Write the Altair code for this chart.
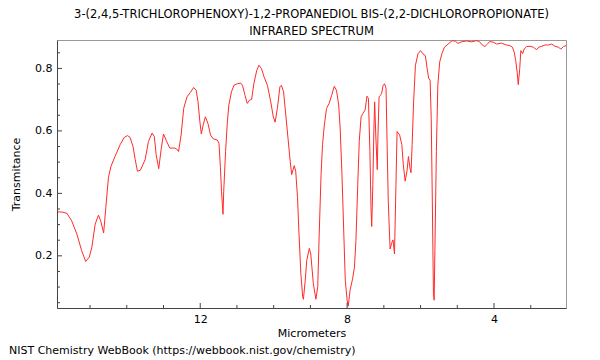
import altair as alt
import pandas as pd

wavelength_um = [
    15.89, 15.76, 15.63, 15.57, 15.50, 15.36, 15.23, 15.12, 15.02, 14.95,
    14.86, 14.77, 14.71, 14.63, 14.57, 14.50, 14.43, 14.32, 14.18, 14.07,
    13.98, 13.91, 13.83, 13.77, 13.71, 13.63, 13.50, 13.41, 13.31, 13.25,
    13.20, 13.13, 13.06, 13.00, 12.92, 12.83, 12.70, 12.65, 12.59, 12.52,
    12.45, 12.36, 12.27, 12.18, 12.11, 12.06, 12.01, 11.97, 11.92, 11.86,
    11.79, 11.72, 11.65, 11.54, 11.49, 11.45, 11.42, 11.38, 11.36, 11.31,
    11.26, 11.22, 11.15, 11.08, 10.99, 10.90, 10.85, 10.78, 10.72, 10.66,
    10.60, 10.54, 10.46, 10.40, 10.33, 10.26, 10.17, 10.08, 10.01, 9.96,
    9.90, 9.83, 9.79, 9.73, 9.67, 9.61, 9.55, 9.51, 9.44, 9.40,
    9.35, 9.31, 9.26, 9.21, 9.19, 9.14, 9.10, 9.03, 8.99, 8.92,
    8.85, 8.80, 8.76, 8.71, 8.67, 8.62, 8.56, 8.49, 8.42, 8.35,
    8.29, 8.23, 8.19, 8.14, 8.09, 8.05, 8.00, 7.97, 7.92, 7.85,
    7.80, 7.76, 7.71, 7.67, 7.62, 7.57, 7.51, 7.46, 7.42, 7.38,
    7.35, 7.33, 7.30, 7.27, 7.25, 7.22, 7.18, 7.16, 7.13, 7.09,
    7.06, 7.02, 6.98, 6.94, 6.92, 6.88, 6.83, 6.78, 6.75, 6.71,
    6.67, 6.64, 6.57, 6.51, 6.47, 6.42, 6.37, 6.33, 6.29, 6.26,
    6.23, 6.19, 6.14, 6.07, 6.00, 5.94, 5.87, 5.82, 5.78, 5.74,
    5.71, 5.68, 5.65, 5.63, 5.61, 5.57, 5.53, 5.48, 5.42, 5.35,
    5.25, 5.14, 5.05, 4.98, 4.89, 4.75, 4.62, 4.48, 4.40, 4.32,
    4.25, 4.18, 4.12, 4.02, 3.93, 3.80, 3.66, 3.57, 3.50, 3.45,
    3.41, 3.37, 3.34, 3.30, 3.27, 3.22, 3.18, 3.11, 3.02, 2.93,
    2.84, 2.78, 2.70, 2.61, 2.52, 2.43, 2.34, 2.25, 2.18, 2.11, 2.04,
]

transmittance = [
    0.341, 0.340, 0.336, 0.325, 0.312, 0.270, 0.217, 0.182, 0.196, 0.228,
    0.302, 0.330, 0.312, 0.273, 0.355, 0.450, 0.487, 0.518, 0.556, 0.579,
    0.585, 0.579, 0.550, 0.508, 0.471, 0.474, 0.508, 0.566, 0.593, 0.582,
    0.524, 0.479, 0.545, 0.590, 0.568, 0.545, 0.545, 0.543, 0.534, 0.587,
    0.672, 0.709, 0.723, 0.739, 0.730, 0.693, 0.630, 0.590, 0.619, 0.645,
    0.624, 0.587, 0.575, 0.571, 0.561, 0.482, 0.407, 0.333, 0.407, 0.534,
    0.630, 0.683, 0.725, 0.746, 0.751, 0.753, 0.746, 0.714, 0.688, 0.698,
    0.701, 0.751, 0.794, 0.810, 0.799, 0.772, 0.746, 0.693, 0.645, 0.628,
    0.672, 0.741, 0.746, 0.725, 0.651, 0.577, 0.503, 0.460, 0.489, 0.471,
    0.386, 0.270, 0.143, 0.069, 0.061, 0.122, 0.185, 0.224, 0.206, 0.111,
    0.061, 0.101, 0.270, 0.460, 0.556, 0.619, 0.672, 0.688, 0.714, 0.743,
    0.730, 0.683, 0.609, 0.460, 0.270, 0.122, 0.058, 0.039, 0.090, 0.127,
    0.164, 0.249, 0.429, 0.566, 0.645, 0.656, 0.667, 0.711, 0.704, 0.534,
    0.355, 0.294, 0.429, 0.609, 0.693, 0.587, 0.476, 0.587, 0.709, 0.714,
    0.720, 0.746, 0.751, 0.736, 0.609, 0.376, 0.222, 0.243, 0.251, 0.206,
    0.429, 0.598, 0.587, 0.556, 0.492, 0.439, 0.471, 0.518, 0.482, 0.466,
    0.556, 0.693, 0.810, 0.847, 0.857, 0.847, 0.841, 0.799, 0.769, 0.762,
    0.640, 0.376, 0.079, 0.058, 0.217, 0.534, 0.746, 0.820, 0.847, 0.868,
    0.878, 0.889, 0.887, 0.880, 0.885, 0.888, 0.885, 0.889, 0.886, 0.875,
    0.870, 0.878, 0.886, 0.884, 0.878, 0.881, 0.875, 0.873, 0.868, 0.852,
    0.825, 0.788, 0.748, 0.799, 0.857, 0.847, 0.862, 0.870, 0.871, 0.868,
    0.860, 0.868, 0.871, 0.875, 0.875, 0.878, 0.871, 0.868, 0.862, 0.870, 0.873,
]

major_x = [4, 8, 12]
minor_x = [3, 5, 6, 7, 9, 10, 11, 13, 14, 15]
major_y = [0.2, 0.4, 0.6, 0.8]
minor_y = [0.05, 0.1, 0.15, 0.25, 0.3, 0.35, 0.45, 0.5, 0.55, 0.65, 0.7, 0.75, 0.85]

title_lines = ["3-(2,4,5-TRICHLOROPHENOXY)-1,2-PROPANEDIOL BIS-(2,2-DICHLOROPROPIONATE)",
               "INFRARED SPECTRUM"]
credit = ["NIST Chemistry WebBook (https://webbook.nist.gov/chemistry)"]

W, H = 509, 268
FONT = "DejaVu Sans"
AXC = "#444444"

xs = alt.Scale(domain=[2.04, 15.9], reverse=True, nice=False, zero=False)
ys = alt.Scale(domain=[0.033, 0.891], nice=False, zero=False)

x_axis = alt.Axis(values=major_x, title="Micrometers", tickSize=0, labelPadding=5,
                  grid=False, domainColor=AXC, labelFont=FONT, titleFont=FONT,
                  labelFontSize=11, titleFontSize=11, titleFontWeight="normal",
                  labelColor="black", titleColor="black", titlePadding=3,
                  labelFlush=False)
y_axis = alt.Axis(values=major_y, format=".1f", title="Transmitance", tickSize=0,
                  labelPadding=5, grid=False, domainColor=AXC, labelFont=FONT,
                  titleFont=FONT, labelFontSize=11, titleFontSize=11,
                  titleFontWeight="normal", labelColor="black", titleColor="black",
                  titlePadding=13)

spec = pd.DataFrame({"um": wavelength_um, "T": transmittance})

line = alt.Chart(spec).mark_line(color="#ff2a2a", strokeWidth=1, clip=True).encode(
    x=alt.X("um:Q", scale=xs, axis=x_axis),
    y=alt.Y("T:Q", scale=ys, axis=y_axis),
)

def xticks(vals, length):
    return alt.Chart(pd.DataFrame({"um": vals})).mark_rule(color=AXC, strokeWidth=1).encode(
        x=alt.X("um:Q", scale=xs, axis=x_axis), y=alt.value(H), y2=alt.value(H - length))

def yticks(vals, length):
    return alt.Chart(pd.DataFrame({"T": vals})).mark_rule(color=AXC, strokeWidth=1).encode(
        y=alt.Y("T:Q", scale=ys, axis=y_axis), x=alt.value(0), x2=alt.value(length))

note = alt.Chart(pd.DataFrame({"t": credit})).mark_text(
    align="left", baseline="middle", font=FONT, fontSize=11, color="black"
).encode(text="t:N", x=alt.value(-48), y=alt.value(311))

chart = alt.layer(
    line, xticks(major_x, 5), xticks(minor_x, 3), yticks(major_y, 5), yticks(minor_y, 3), note
).properties(
    width=W, height=H,
    title=alt.TitleParams(text=title_lines, font=FONT, fontSize=11.5, fontWeight="normal",
                          color="black", anchor="middle", lineHeight=17, offset=3),
    autosize=alt.AutoSizeParams(type="none"),
    padding={"left": 49, "top": 32, "right": 26, "bottom": 52},
).configure_view(stroke="#999999", strokeWidth=1)

chart.save("out.html", embed_options={"renderer": "svg", "actions": False})
